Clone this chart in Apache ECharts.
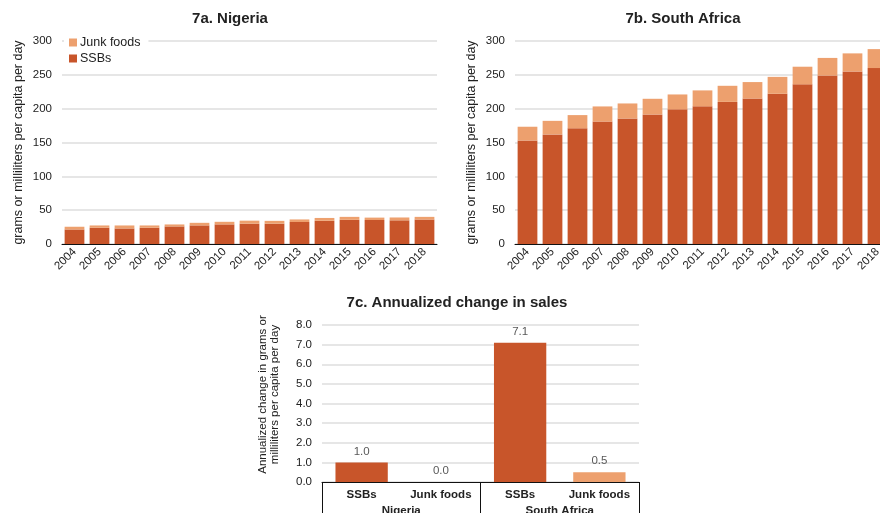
<!DOCTYPE html>
<html>
<head>
<meta charset="utf-8">
<script src="https://cdn.jsdelivr.net/npm/echarts@6/dist/echarts.min.js"></script>
<style>
  html, body { margin: 0; padding: 0; background: #fff; }
  #chart { width: 880px; height: 513px; }
</style>
</head>
<body>
<div id="chart"></div>
<script>
// Yearly sales, grams or milliliters per capita per day
var years = ['2004', '2005', '2006', '2007', '2008', '2009', '2010', '2011', '2012', '2013', '2014', '2015', '2016', '2017', '2018'];
var nigeriaSSB  = [21.5, 24, 23, 24, 26, 27.5, 29, 30, 30, 32.5, 34.3, 35.7, 35.5, 35, 36.2];
var nigeriaJunk = [4, 3.4, 4.4, 3.4, 2.9, 3.8, 3.8, 4.5, 4.2, 3.8, 4.2, 4.4, 3.5, 4.2, 3.9];
var southAfricaSSB  = [153, 162, 171, 181, 185.5, 191.5, 199, 203.5, 210, 215, 222, 236, 249, 255, 260];
var southAfricaJunk = [20.3, 20, 19.5, 22.3, 22.2, 23.1, 22, 23.5, 23.8, 24.3, 25, 26, 26, 26.7, 28];

// Annualized change in sales
var changeProducts  = ['SSBs', 'Junk foods', 'SSBs', 'Junk foods'];
var changeCountries = ['Nigeria', 'South Africa'];
var changeValues    = [1.0, 0.0, 7.1, 0.5];

var COLOR_SSB = '#c8552a';
var COLOR_JUNK = '#eda06e';
var FONT = '"Liberation Sans", Arial, sans-serif';
var TEXT = '#222';

function yearAxis(gridIndex) {
  return {
    type: 'category', gridIndex: gridIndex, data: years,
    axisLine: { lineStyle: { color: '#111', width: 1 } },
    axisTick: { show: false },
    axisLabel: { interval: 0, rotate: 45, fontSize: 11.5, color: TEXT, fontFamily: FONT, margin: 6 }
  };
}
function salesAxis(gridIndex) {
  return {
    type: 'value', gridIndex: gridIndex, min: 0, max: 300, interval: 50,
    name: 'grams or milliliters per capita per day',
    nameLocation: 'middle', nameRotate: 90, nameGap: 37,
    nameTextStyle: { fontSize: 12.5, color: TEXT, fontFamily: FONT },
    axisLine: { show: false }, axisTick: { show: false },
    axisLabel: { fontSize: 11.5, color: TEXT, fontFamily: FONT, margin: 10 },
    splitLine: { lineStyle: { color: '#dedede', width: 1.5 } }
  };
}
function stackedSeries(name, data, idx, color, stack) {
  return {
    name: name, type: 'bar', stack: stack, xAxisIndex: idx, yAxisIndex: idx,
    data: data, barCategoryGap: '21%', itemStyle: { color: color }
  };
}

var changeData = changeValues.map(function (v, i) {
  return { value: v, itemStyle: { color: changeProducts[i] === 'SSBs' ? COLOR_SSB : COLOR_JUNK } };
});

var chart = echarts.init(document.getElementById('chart'), null, { renderer: 'canvas' });
chart.setOption({
  animation: false,
  backgroundColor: '#fff',
  textStyle: { fontFamily: FONT },
  title: [
    { text: '7a. Nigeria', left: 225, top: 6, textAlign: 'center',
      textStyle: { fontSize: 15, fontWeight: 'bold', color: TEXT, fontFamily: FONT } },
    { text: '7b. South Africa', left: 678, top: 6, textAlign: 'center',
      textStyle: { fontSize: 15, fontWeight: 'bold', color: TEXT, fontFamily: FONT } },
    { text: '7c. Annualized change in sales', left: 452, top: 290, textAlign: 'center',
      textStyle: { fontSize: 15, fontWeight: 'bold', color: TEXT, fontFamily: FONT } }
  ],
  legend: {
    data: ['Junk foods', 'SSBs'],
    orient: 'vertical', left: 64, top: 31, padding: [5, 8, 3, 5],
    itemWidth: 8, itemHeight: 8, itemGap: 3, icon: 'rect',
    backgroundColor: '#fff',
    textStyle: { fontSize: 12.5, color: TEXT, fontFamily: FONT, padding: [0, 0, 0, -2] }
  },
  grid: [
    { left: 62, top: 41, width: 375, height: 203, outerBoundsMode: 'none', containLabel: false },
    { left: 515, top: 41, width: 375, height: 203, outerBoundsMode: 'none', containLabel: false },
    { left: 322, top: 325, width: 317, height: 157, outerBoundsMode: 'none', containLabel: false }
  ],
  xAxis: [
    yearAxis(0),
    yearAxis(1),
    {
      type: 'category', gridIndex: 2, data: changeProducts, position: 'bottom',
      axisLine: { show: false }, axisTick: { show: false },
      axisLabel: { interval: 0, fontSize: 11.5, fontWeight: 'bold', color: TEXT, fontFamily: FONT, margin: 7 }
    },
    {
      type: 'category', gridIndex: 2, data: changeCountries, position: 'bottom',
      axisLine: { lineStyle: { color: '#111', width: 1 } },
      axisTick: { show: true, length: 40, lineStyle: { color: '#111', width: 1 } },
      axisLabel: { interval: 0, fontSize: 11.5, fontWeight: 'bold', color: TEXT, fontFamily: FONT, margin: 23 }
    }
  ],
  yAxis: [
    salesAxis(0),
    salesAxis(1),
    {
      type: 'value', gridIndex: 2, min: 0, max: 8, interval: 1,
      name: 'Annualized change in grams or\nmilliliters per capita per day',
      nameLocation: 'middle', nameRotate: 90, nameGap: 41,
      nameTextStyle: { fontSize: 11.5, color: TEXT, fontFamily: FONT, lineHeight: 12, padding: [0, 0, 0, 18] },
      axisLine: { show: false }, axisTick: { show: false },
      axisLabel: { fontSize: 11.5, color: TEXT, fontFamily: FONT, margin: 10,
        formatter: function (v) { return v.toFixed(1); } },
      splitLine: { lineStyle: { color: '#dedede', width: 1.5 } }
    }
  ],
  series: [
    stackedSeries('SSBs', nigeriaSSB, 0, COLOR_SSB, 'ng'),
    stackedSeries('Junk foods', nigeriaJunk, 0, COLOR_JUNK, 'ng'),
    stackedSeries('SSBs', southAfricaSSB, 1, COLOR_SSB, 'za'),
    stackedSeries('Junk foods', southAfricaJunk, 1, COLOR_JUNK, 'za'),
    {
      name: 'Annualized change', type: 'bar', xAxisIndex: 2, yAxisIndex: 2,
      data: changeData, barCategoryGap: '34%',
      label: { show: true, position: 'top', distance: 5, fontSize: 11.5, color: '#595959', fontFamily: FONT,
        formatter: function (p) { return p.value.toFixed(1); } }
    }
  ]
});
</script>
</body>
</html>
